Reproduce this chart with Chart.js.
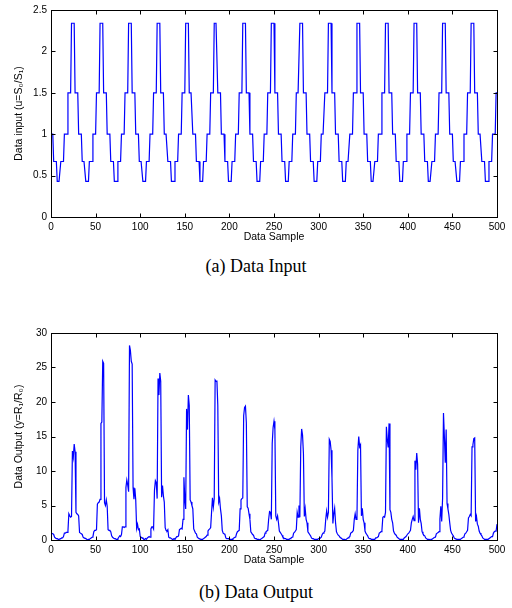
<!DOCTYPE html>
<html><head><meta charset="utf-8">
<script src="https://cdn.jsdelivr.net/npm/chart.js@4/dist/chart.umd.min.js"></script>
<style>
body{margin:0;background:#fff;width:512px;height:608px;position:relative;overflow:hidden}
.wrap{position:absolute;left:0;width:512px;height:250px}
.cap{position:absolute;left:0;width:512px;text-align:center;font-family:"Liberation Serif","Times New Roman",serif;font-size:18px;line-height:20px;color:#000}
</style></head><body>
<div class="wrap" style="top:0"><canvas id="c1" width="512" height="250"></canvas></div>
<div class="cap" style="top:256px">(a) Data Input</div>
<div class="wrap" style="top:323px"><canvas id="c2" width="512" height="250"></canvas></div>
<div class="cap" style="top:582px">(b) Data Output</div>
<script>
// ---- data ----
const xTicks = [0,50,100,150,200,250,300,350,400,450,500];
const yTicksInput = [0,0.5,1,1.5,2,2.5];
const yTicksOutput = [0,5,10,15,20,25,30];
const blockLength = 4;      // samples per input step
const firstBlockStart = -1; // sample index of first block
// input level per 4-sample block
const inputBlocks = [
 1, 0.67,
 0.43,0.67,1,1.5,2.34,1.5,1,0.67,
 0.43,0.67,1,1.5,2.34,1.5,1,0.67,
 0.43,0.67,1,1.5,2.34,1.5,1,0.67,
 0.43,0.67,1,1.5,2.34,1.5,1,0.67,
 0.43,0.67,1,1.5,2.34,1.5,1,0.67,
 0.43,0.67,1,1.5,2.34,1.5,1,0.67,
 0.43,0.67,1,1.5,2.34,1.5,1,0.67,
 0.43,0.67,1,1.5,2.34,1.5,1,0.67,
 0.43,0.67,1,1.5,2.34,1.5,1,0.67,
 0.43,0.67,1,1.5,2.34,1.5,1,0.67,
 0.43,0.67,1,1.5,2.34,1.5,1,0.67,
 0.43,0.67,1,1.5,2.34,1.5,1,0.67,
 0.43,0.67,1,1.5,2.34,1.5,1,0.67,
 0.43,0.67,1,1.5,2.34,1.5,1,0.67,
 0.43,0.67,1,1.5,2.34,1.5,1,0.67,
 0.43,0.67,1,1.5
];
// output per sample (0..500)
const outputValues = [
 1.0,1.0,0.9,0.8, 0.4,0.3,0.2,0.2,
 0.1,0.1,0.1,0.2, 0.3,0.3,0.5,1.0, 1.0,1.1,1.1,1.3, 3.8,3.5,3.3,3.4, 12.9,12.0,13.9,12.8, 4.0,3.8,3.7,3.5, 1.1,1.0,0.9,0.8, 0.4,0.3,0.3,0.2,
 0.1,0.0,0.1,0.1, 0.2,0.3,0.4,0.5, 1.2,1.4,1.4,1.5, 5.2,5.4,5.5,5.9, 16.9,17.1,25.9,25.6, 5.4,5.0,5.8,4.9, 1.5,1.4,1.4,1.2, 0.6,0.4,0.3,0.2,
 0.2,0.1,0.1,0.2, 0.4,0.6,0.5,0.8, 1.9,1.9,1.8,1.9, 7.6,8.7,8.0,7.0, 28.2,27.5,25.9,25.5, 7.6,5.9,7.5,5.8, 1.7,2.3,1.5,1.6, 0.5,0.4,0.3,0.3,
 0.1,0.1,0.2,0.1, 0.3,0.4,0.5,0.4, 1.6,1.9,1.9,1.6, 7.2,8.6,8.3,6.0, 23.4,21.0,24.2,23.0, 6.2,7.9,6.4,5.5, 1.8,1.4,1.3,1.5, 0.4,0.3,0.3,0.2,
 0.1,0.1,0.2,0.1, 0.3,0.5,0.5,0.6, 1.5,1.6,1.7,1.6, 3.0,9.1,6.0,4.5, 19.0,16.0,21.0,19.5, 5.8,5.5,5.0,4.5, 1.6,1.3,1.0,0.9, 0.4,0.3,0.2,0.2,
 0.1,0.1,0.1,0.2, 0.3,0.4,0.5,0.7, 1.3,1.5,1.6,1.8, 4.0,6.1,4.8,6.0, 23.2,23.0,23.1,19.5, 5.5,6.0,4.5,3.5, 1.4,1.0,0.9,0.8, 0.3,0.2,0.2,0.2,
 0.1,0.1,0.1,0.1, 0.2,0.3,0.4,0.4, 0.9,1.2,1.3,1.4, 4.5,5.8,6.0,6.1, 18.0,19.2,19.4,17.0, 4.8,4.6,3.8,3.0, 1.2,1.0,0.8,0.7, 0.3,0.2,0.2,0.1,
 0.1,0.1,0.0,0.1, 0.2,0.3,0.4,0.5, 1.0,1.2,1.3,1.4, 3.0,4.1,4.0,3.0, 14.0,16.3,17.2,16.0, 3.5,3.0,3.5,2.5, 1.3,1.1,0.9,0.7, 0.4,0.3,0.2,0.2,
 0.1,0.1,0.1,0.1, 0.2,0.3,0.4,0.4, 1.0,1.1,1.3,1.5, 4.0,3.3,5.0,3.3, 13.5,16.1,15.2,12.5, 3.4,4.5,3.0,2.5, 1.2,1.0,0.8,0.6, 0.3,0.2,0.2,0.1,
 0.1,0.1,0.1,0.1, 0.2,0.2,0.3,0.4, 0.8,1.0,1.1,1.3, 3.0,4.2,3.3,4.0, 14.6,14.3,13.0,9.0, 2.4,3.8,4.6,2.5, 1.2,0.9,0.7,0.6, 0.4,0.3,0.2,0.1,
 0.1,0.1,0.0,0.1, 0.2,0.3,0.4,0.5, 1.0,1.1,1.2,1.4, 3.0,3.8,3.0,3.2, 13.0,15.0,13.5,13.8, 3.5,4.6,3.0,2.5, 1.3,1.0,0.8,0.6, 0.3,0.2,0.2,0.1,
 0.1,0.1,0.1,0.1, 0.3,0.3,0.4,0.5, 1.0,1.1,1.2,1.4, 3.3,3.4,3.3,4.0, 16.4,14.5,13.4,16.9, 4.4,4.0,3.0,2.5, 1.3,1.0,0.8,0.7, 0.4,0.3,0.2,0.1,
 0.1,0.1,0.1,0.1, 0.3,0.4,0.5,0.5, 0.9,1.0,1.2,1.4, 2.5,3.0,3.4,2.8, 11.5,10.2,12.6,11.0, 2.5,4.6,3.0,2.4, 1.2,0.9,0.7,0.6, 0.3,0.2,0.1,0.1,
 0.1,0.0,0.1,0.1, 0.2,0.3,0.4,0.4, 0.9,1.0,1.1,1.2, 3.0,4.9,2.7,6.0, 18.4,15.0,11.2,16.0, 5.3,4.5,3.7,2.5, 1.4,1.0,0.8,0.6, 0.3,0.2,0.2,0.1,
 0.1,0.1,0.1,0.1, 0.2,0.3,0.4,0.5, 0.9,1.0,1.2,1.4, 3.2,3.4,3.7,3.5, 13.5,13.8,14.7,14.8, 2.7,3.4,2.3,2.0, 1.3,1.0,0.8,0.6, 0.3,0.2,0.1,0.1,
 0.1,0.1,0.1,0.1, 0.3,0.4,0.5,0.5, 1.0,1.2,1.3,1.3, 2.3
];
const sampleCount = 501;

// ---- build points ----
const inputPoints = [];
inputBlocks.forEach((v, b) => {
  for (let j = 0; j < blockLength; j++) {
    const s = firstBlockStart + b * blockLength + j;
    if (s >= 0 && s < sampleCount) inputPoints.push({x: s, y: v});
  }
});
const outputPoints = outputValues.map((v, i) => ({x: i, y: v}));

const framePlugin = {
  id: 'frame',
  afterDraw(chart) {
    const {ctx, chartArea: a, scales: {x, y}} = chart;
    ctx.save();
    ctx.strokeStyle = '#000';
    ctx.lineWidth = 1;
    const L = Math.round(a.left) + 0.5, R = Math.round(a.right) + 0.5;
    const T = Math.round(a.top) + 0.5, B = Math.round(a.bottom) + 0.5;
    ctx.strokeRect(L, T, R - L, B - T);
    const tl = 4;
    ctx.beginPath();
    x.ticks.forEach(t => {
      const p = Math.round(x.getPixelForValue(t.value)) + 0.5;
      ctx.moveTo(p, B); ctx.lineTo(p, B - tl);
      ctx.moveTo(p, T); ctx.lineTo(p, T + tl);
    });
    y.ticks.forEach(t => {
      const p = Math.round(y.getPixelForValue(t.value)) + 0.5;
      ctx.moveTo(L, p); ctx.lineTo(L + tl, p);
      ctx.moveTo(R, p); ctx.lineTo(R - tl, p);
    });
    ctx.stroke();
    ctx.restore();
  }
};

const tickFont = {family: '"Liberation Sans", Arial, Helvetica, sans-serif', size: 10};
const titleFont = {family: '"Liberation Sans", Arial, Helvetica, sans-serif', size: 10.5};

function makeChart(id, points, yMax, yTickVals, yTitle) {
  return new Chart(document.getElementById(id), {
    type: 'line',
    data: {datasets: [{data: points, borderColor: '#0000ff', borderWidth: 1.2,
      pointRadius: 0, tension: 0, fill: false}]},
    options: {
      responsive: false, animation: false, devicePixelRatio: 1,
      layout: {padding: {left: 13, top: 9, right: 15, bottom: 7}},
      plugins: {legend: {display: false}, tooltip: {enabled: false}},
      scales: {
        x: {type: 'linear', min: 0, max: 500,
          afterBuildTicks: s => { s.ticks = xTicks.map(v => ({value: v})); },
          afterFit: s => { s.height = 26; },
          grid: {display: false, drawTicks: false}, border: {display: false},
          ticks: {color: '#000', font: tickFont, padding: 4, maxRotation: 0, autoSkip: false,
            callback: v => String(v)},
          title: {display: true, text: 'Data Sample', color: '#000', font: titleFont, padding: 0}},
        y: {type: 'linear', min: 0, max: yMax,
          afterBuildTicks: s => { s.ticks = yTickVals.map(v => ({value: v})); },
          afterFit: s => { s.width = 38; },
          grid: {display: false, drawTicks: false}, border: {display: false},
          ticks: {color: '#000', font: tickFont, padding: 4, autoSkip: false,
            callback: v => String(v)},
          title: {display: true, text: yTitle, color: '#000', font: titleFont, padding: 0}}
      }
    },
    plugins: [framePlugin]
  });
}

makeChart('c1', inputPoints, 2.5, yTicksInput, 'Data input (u=S₀/S₁)');
makeChart('c2', outputPoints, 30, yTicksOutput, 'Data Output (y=R₁/R₀)');
</script>
</body></html>
